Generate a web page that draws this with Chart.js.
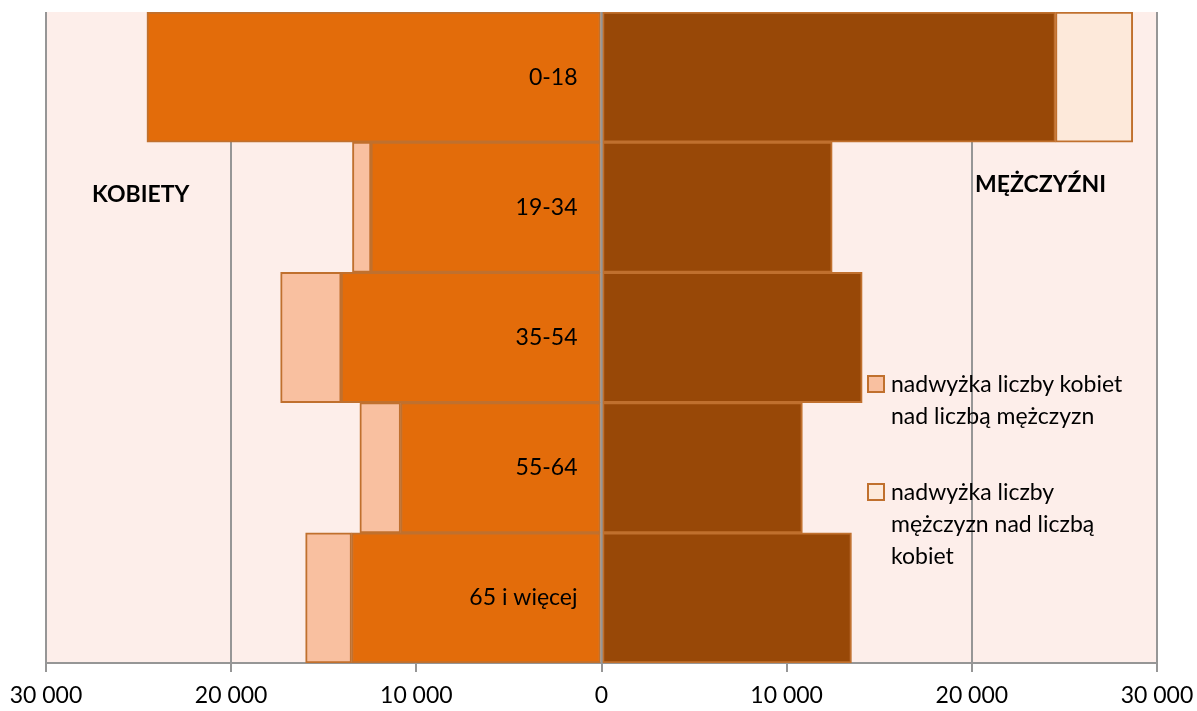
<!DOCTYPE html>
<html lang="pl">
<head>
    <meta charset="UTF-8"/>
    <title>Piramida wieku</title>
    <script src="https://cdn.jsdelivr.net/npm/chart.js"></script>
    <style>
        html, body {
            margin: 0;
            background: #ffffff;
        }

        #wrap {
            position: relative;
            width: 1197px;
            height: 711px;
            font-family: Lato, "DejaVu Sans", sans-serif;
        }

        .side-label {
            position: absolute;
            font-weight: bold;
            font-size: 23px;
            color: #000;
            line-height: 28px;
        }

        #legend {
            position: absolute;
            left: 867px;
            top: 367px;
            font-size: 23px;
            line-height: 32px;
            color: #000;
        }

        .legend-item {
            display: flex;
            align-items: flex-start;
            margin-bottom: 44px;
        }

        .legend-box {
            width: 14px;
            height: 14px;
            border: 2px solid #c0702e;
            margin: 8px 6px 0 0;
            flex: none;
        }
    </style>
</head>
<body>
<div id="wrap">
    <canvas id="pyramid" width="1197" height="711"></canvas>
    <div class="side-label" style="left:92px; top:179px;">KOBIETY</div>
    <div class="side-label" style="left:975px; top:169px;">MĘŻCZYŹNI</div>
    <div id="legend">
        <div class="legend-item">
            <div class="legend-box" style="background:#f9c0a0;"></div>
            <div>nadwyżka liczby kobiet<br>nad liczbą mężczyzn</div>
        </div>
        <div class="legend-item">
            <div class="legend-box" style="background:#fde9da;"></div>
            <div>nadwyżka liczby<br>mężczyzn nad liczbą<br>kobiet</div>
        </div>
    </div>
</div>

<script>
    // age groups, top to bottom
    const ageGroups = ['0-18', '19-34', '35-54', '55-64', '65 i więcej'];

    // women (drawn to the left)
    const womenCommon = [24550, 12450, 14060, 10850, 13500];
    const womenSurplus = [0, 1000, 3270, 2200, 2480];

    // men (drawn to the right)
    const menCommon = [24520, 12460, 14080, 10850, 13500];
    const menSurplus = [4170, 0, 0, 0, 0];

    const xTicks = [-30000, -20000, -10000, 0, 10000, 20000, 30000];

    const borderCol = '#c0702e';
    const gridCol = '#969696';

    function fmt(v) {
        return String(Math.abs(v)).replace(/\B(?=(\d{3})+(?!\d))/g, ' ');
    }

    const plotBg = {
        id: 'plotBg',
        beforeDraw(chart) {
            const a = chart.chartArea;
            const ctx = chart.ctx;
            ctx.save();
            ctx.fillStyle = '#fdeeea';
            ctx.fillRect(a.left, a.top, a.right - a.left, a.bottom - a.top);
            ctx.restore();
        }
    };

    // zero line and the age group names sit on top of the bars
    const centreAxis = {
        id: 'centreAxis',
        afterDatasetsDraw(chart) {
            const {ctx, chartArea: a, scales: {x, y}} = chart;
            const x0 = x.getPixelForValue(0);
            ctx.save();
            ctx.strokeStyle = gridCol;
            ctx.lineWidth = 2;
            ctx.beginPath();
            ctx.moveTo(x0, a.top);
            ctx.lineTo(x0, a.bottom);
            ctx.stroke();
            ctx.fillStyle = '#000';
            ctx.font = '23px Lato';
            ctx.textAlign = 'right';
            ctx.textBaseline = 'middle';
            ageGroups.forEach((g, i) => {
                ctx.fillText(g, x0 - 24, y.getPixelForValue(i));
            });
            ctx.restore();
        }
    };

    const barStyle = {
        borderColor: borderCol,
        borderWidth: 2,
        borderSkipped: false,
        barPercentage: 1,
        categoryPercentage: 1,
        stack: 'all'
    };

    function draw() {
        new Chart(document.getElementById('pyramid'), {
            type: 'bar',
            data: {
                labels: ageGroups,
                datasets: [
                    Object.assign({label: 'kobiety', data: womenCommon.map(v => -v), backgroundColor: '#e36c0a'}, barStyle),
                    Object.assign({label: 'nadwyżka liczby kobiet nad liczbą mężczyzn', data: womenSurplus.map(v => -v), backgroundColor: '#f9c0a0'}, barStyle),
                    Object.assign({label: 'mężczyźni', data: menCommon, backgroundColor: '#984807'}, barStyle),
                    Object.assign({label: 'nadwyżka liczby mężczyzn nad liczbą kobiet', data: menSurplus, backgroundColor: '#fde9da'}, barStyle)
                ]
            },
            options: {
                indexAxis: 'y',
                responsive: false,
                animation: false,
                layout: {
                    padding: {left: 46, right: 40, top: 12, bottom: 0}
                },
                plugins: {
                    legend: {display: false},
                    tooltip: {enabled: false}
                },
                scales: {
                    x: {
                        stacked: true,
                        min: -30000,
                        max: 30000,
                        afterBuildTicks: axis => {
                            axis.ticks = xTicks.map(v => ({value: v}));
                        },
                        afterFit: axis => {
                            axis.paddingLeft = 30;
                            axis.paddingRight = 30;
                            axis.paddingBottom = 0;
                            axis.height = 48;
                        },
                        grid: {
                            color: gridCol,
                            lineWidth: 2,
                            tickLength: 9,
                            tickColor: gridCol
                        },
                        border: {color: gridCol, width: 2},
                        ticks: {
                            color: '#000',
                            padding: 10,
                            maxRotation: 0,
                            font: {family: 'Lato', size: 23},
                            callback: v => fmt(v)
                        }
                    },
                    y: {
                        stacked: true,
                        display: false
                    }
                }
            },
            plugins: [plotBg, centreAxis]
        });
    }

    document.fonts.load('23px Lato').then(draw, draw);
</script>
</body>
</html>
